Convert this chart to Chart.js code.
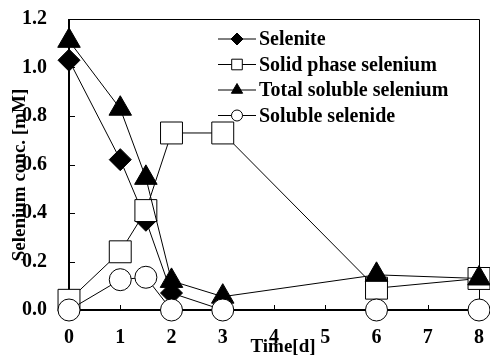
<!DOCTYPE html>
<html>
<head>
<meta charset="utf-8">
<script src="https://cdn.jsdelivr.net/npm/chart.js@4"></script>
<style>
  html, body { margin: 0; padding: 0; background: #fff; }
  #wrap { width: 490px; height: 356px; }
</style>
</head>
<body>
<div id="wrap"><canvas id="myChart" width="490" height="356"></canvas></div>
<script>
const timeDays = [0, 1, 1.5, 2, 3, 6, 8];
const selenite = [1.03, 0.62, 0.37, 0.07, 0, 0, 0];
const solidSelenium = [0.04, 0.24, 0.41, 0.73, 0.73, 0.09, 0.13];
const totalSoluble = [1.11, 0.83, 0.545, 0.12, 0.055, 0.145, 0.13];
const solubleSelenide = [0, 0.125, 0.135, 0, 0, 0, 0];
const seriesNames = ["Selenite", "Solid phase selenium", "Total soluble selenium", "Soluble selenide"];
const xTicks = [0, 1, 2, 3, 4, 5, 6, 7, 8];
const yTicks = [0, 0.2, 0.4, 0.6, 0.8, 1.0, 1.2];
const xTitle = "Time[d]";
const yTitle = "Selenium conc. [mM]";

const font = "Liberation Serif";
const fontSize = 20;
const toPoints = (ys) => ys.map((y, i) => ({ x: timeDays[i], y: y }));

const styles = [
  { pointStyle: "rectRot", radius: 11, fill: "#000", legendR: 6, order: 3 },
  { pointStyle: "rect", radius: 15.5, fill: "#fff", legendR: 7.5, order: 2 },
  { pointStyle: "triangle", radius: 13, fill: "#000", legendR: 6.5, order: 1 },
  { pointStyle: "circle", radius: 11, fill: "#fff", legendR: 5.5, order: 0 },
];
const allSeries = [selenite, solidSelenium, totalSoluble, solubleSelenide];

// no extra room for label overhang, the plot box is fixed by layout padding
const noOverhang = (s) => {
  s.paddingTop = 0;
  s.paddingBottom = 0;
  s.paddingLeft = 0;
  s.paddingRight = 0;
};

const frame = {
  id: "frame",
  beforeDatasetsDraw(chart) {
    const { ctx, chartArea: a, scales } = chart;
    ctx.save();
    ctx.strokeStyle = "#000";
    ctx.lineWidth = 1;
    ctx.beginPath();
    ctx.moveTo(a.left, a.top + 0.5);
    ctx.lineTo(a.right + 0.5, a.top + 0.5);
    ctx.lineTo(a.right + 0.5, a.bottom);
    ctx.stroke();
    ctx.lineWidth = 2;
    ctx.beginPath();
    ctx.moveTo(a.left, a.top);
    ctx.lineTo(a.left, a.bottom);
    ctx.lineTo(a.right + 1, a.bottom);
    ctx.stroke();
    ctx.lineWidth = 1;
    ctx.beginPath();
    yTicks.forEach((v) => {
      const y = Math.round(scales.y.getPixelForValue(v)) + 0.5;
      ctx.moveTo(a.left, y);
      ctx.lineTo(a.left + 6, y);
    });
    xTicks.forEach((v) => {
      const x = Math.round(scales.x.getPixelForValue(v)) + 0.5;
      ctx.moveTo(x, a.bottom);
      ctx.lineTo(x, a.bottom - 5);
    });
    ctx.stroke();
    ctx.restore();
  },
  afterDraw(chart) {
    const { ctx } = chart;
    ctx.save();
    ctx.fillStyle = "#000";
    ctx.font = "bold 19px '" + font + "'";
    ctx.textAlign = "center";
    ctx.textBaseline = "middle";
    ctx.fillText(xTitle, 283, 347);
    ctx.translate(20, 175);
    ctx.rotate(-Math.PI / 2);
    ctx.fillText(yTitle, 0, 0);
    ctx.restore();

    // legend
    ctx.save();
    ctx.font = "bold " + fontSize + "px '" + font + "'";
    ctx.textBaseline = "middle";
    seriesNames.forEach((name, i) => {
      const y = 39 + i * 25.5;
      const s = styles[i];
      ctx.strokeStyle = "#000";
      ctx.lineWidth = 1;
      ctx.beginPath();
      ctx.moveTo(218, y);
      ctx.lineTo(256, y);
      ctx.stroke();
      ctx.fillStyle = s.fill;
      Chart.helpers.drawPoint(ctx, { pointStyle: s.pointStyle, radius: s.legendR, rotation: 0, borderWidth: 1 }, 237, y);
      ctx.fillStyle = "#000";
      ctx.fillText(name, 259, y + 1);
    });
    ctx.restore();
  },
};

new Chart(document.getElementById("myChart"), {
  type: "scatter",
  data: {
    datasets: allSeries.map((ys, i) => ({
      label: seriesNames[i],
      data: toPoints(ys),
      showLine: true,
      borderColor: "#000",
      borderWidth: 1,
      pointStyle: styles[i].pointStyle,
      pointRadius: styles[i].radius,
      pointBackgroundColor: styles[i].fill,
      pointBorderColor: "#000",
      pointBorderWidth: 1,
      order: styles[i].order,
      clip: false,
    })),
  },
  options: {
    responsive: false,
    animation: false,
    layout: { autoPadding: false, padding: { left: 0, top: 19, right: 11, bottom: 0 } },
    plugins: { legend: { display: false }, tooltip: { enabled: false } },
    scales: {
      x: {
        type: "linear",
        min: 0,
        max: 8,
        afterFit: (s) => { s.height = 46; noOverhang(s); },
        afterBuildTicks: (s) => { s.ticks = xTicks.map((v) => ({ value: v })); },
        grid: { display: false, drawTicks: false },
        border: { display: false },
        ticks: { padding: 16, color: "#000", font: { family: font, size: fontSize, weight: "bold" } },
      },
      y: {
        min: 0,
        max: 1.2,
        afterFit: (s) => { s.width = 69; noOverhang(s); },
        afterBuildTicks: (s) => { s.ticks = yTicks.map((v) => ({ value: v })); },
        grid: { display: false, drawTicks: false },
        border: { display: false },
        ticks: {
          padding: 22,
          color: "#000",
          font: { family: font, size: fontSize, weight: "bold" },
          callback: (v) => v.toFixed(1),
        },
      },
    },
  },
  plugins: [frame],
});
</script>
</body>
</html>
